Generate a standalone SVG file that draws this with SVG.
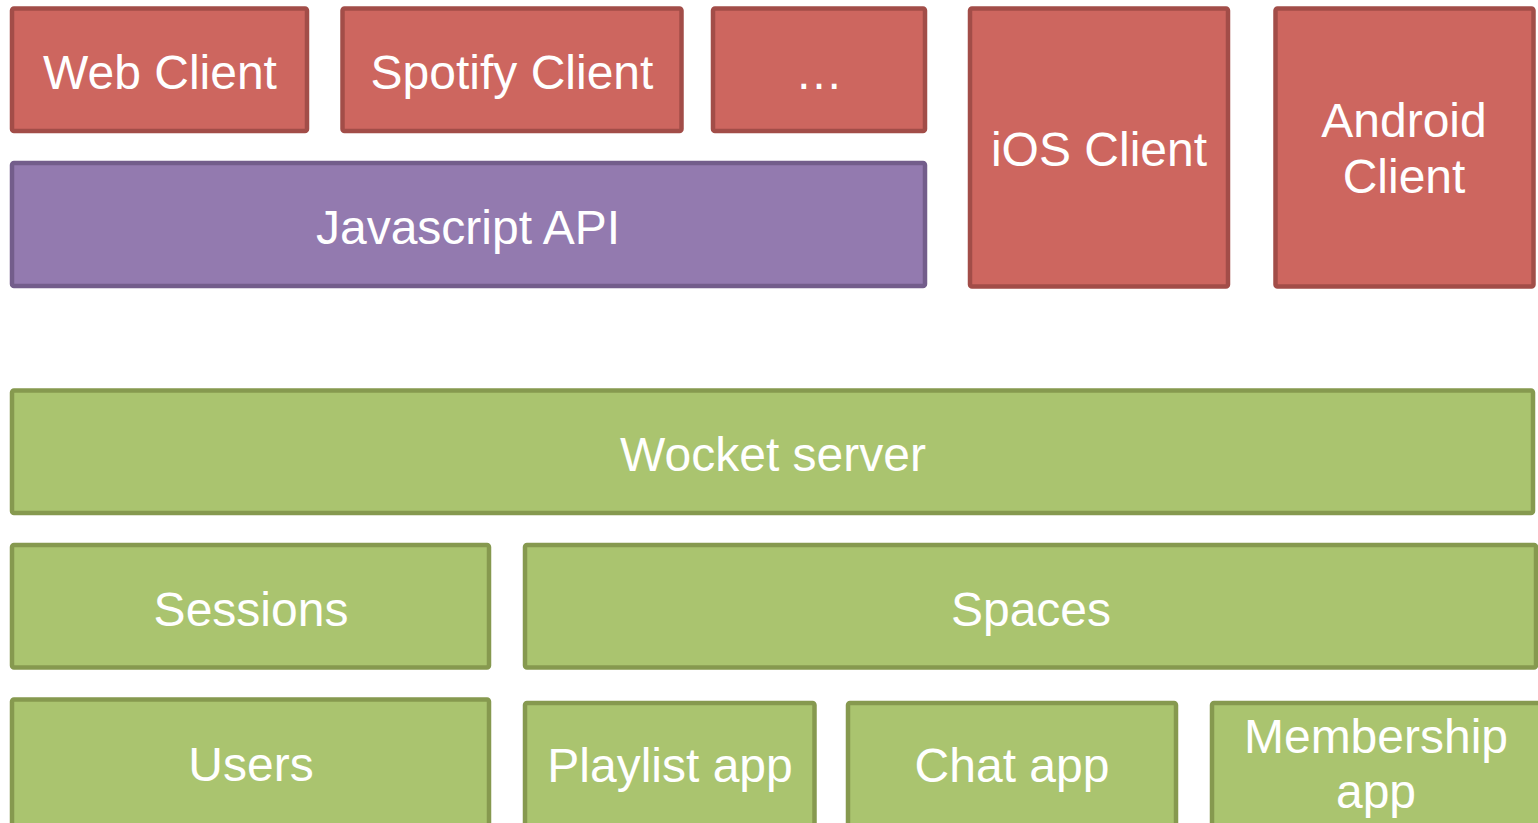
<svg xmlns="http://www.w3.org/2000/svg" width="1538" height="823" viewBox="0 0 1538 823">
<style>
.red{fill:#CD665F;stroke:#A24D48;stroke-width:4.5}
.purple{fill:#937AAF;stroke:#735D8B;stroke-width:4.5}
.green{fill:#AAC46F;stroke:#86994F;stroke-width:4.5}
text{font-family:"Liberation Sans",Arial,sans-serif;font-size:48px;fill:#FFFFFF;text-anchor:middle}
</style>
<rect width="1538" height="823" fill="#FFFFFF"/>
<g id="connectors"></g>
<g id="web-client"><rect class="red" x="12" y="8.5" width="295" height="122.5" rx="2"/><text x="160" y="89">Web Client</text></g>
<g id="spotify-client"><rect class="red" x="342.5" y="8.5" width="339" height="122.5" rx="2"/><text x="512" y="89">Spotify Client</text></g>
<g id="more-clients"><rect class="red" x="713" y="8.5" width="212" height="122.5" rx="2"/><text x="819" y="89">…</text></g>
<g id="javascript-api"><rect class="purple" x="12" y="163" width="913" height="123" rx="2"/><text x="468" y="244">Javascript API</text></g>
<g id="ios-client"><rect class="red" x="970" y="8.5" width="258" height="278" rx="2"/><text x="1099" y="166">iOS Client</text></g>
<g id="android-client"><rect class="red" x="1275.5" y="8.5" width="258" height="278" rx="2"/><text x="1404" y="137">Android</text><text x="1404" y="193">Client</text></g>
<g id="wocket-server"><rect class="green" x="12" y="390.5" width="1521" height="122.5" rx="2"/><text x="773" y="471">Wocket server</text></g>
<g id="sessions"><rect class="green" x="12" y="545" width="477" height="122.5" rx="2"/><text x="251" y="626">Sessions</text></g>
<g id="spaces"><rect class="green" x="525" y="545" width="1011" height="122.5" rx="2"/><text x="1031" y="626">Spaces</text></g>
<g id="users"><rect class="green" x="12" y="699.5" width="477" height="140" rx="2"/><text x="251" y="781">Users</text></g>
<g id="playlist-app"><rect class="green" x="525" y="703" width="289.5" height="140" rx="2"/><text x="670" y="782">Playlist app</text></g>
<g id="chat-app"><rect class="green" x="848" y="703" width="328" height="140" rx="2"/><text x="1012" y="782">Chat app</text></g>
<g id="membership-app"><rect class="green" x="1212" y="703" width="330" height="140" rx="2"/><text x="1376" y="753">Membership</text><text x="1376" y="808">app</text></g>
</svg>
